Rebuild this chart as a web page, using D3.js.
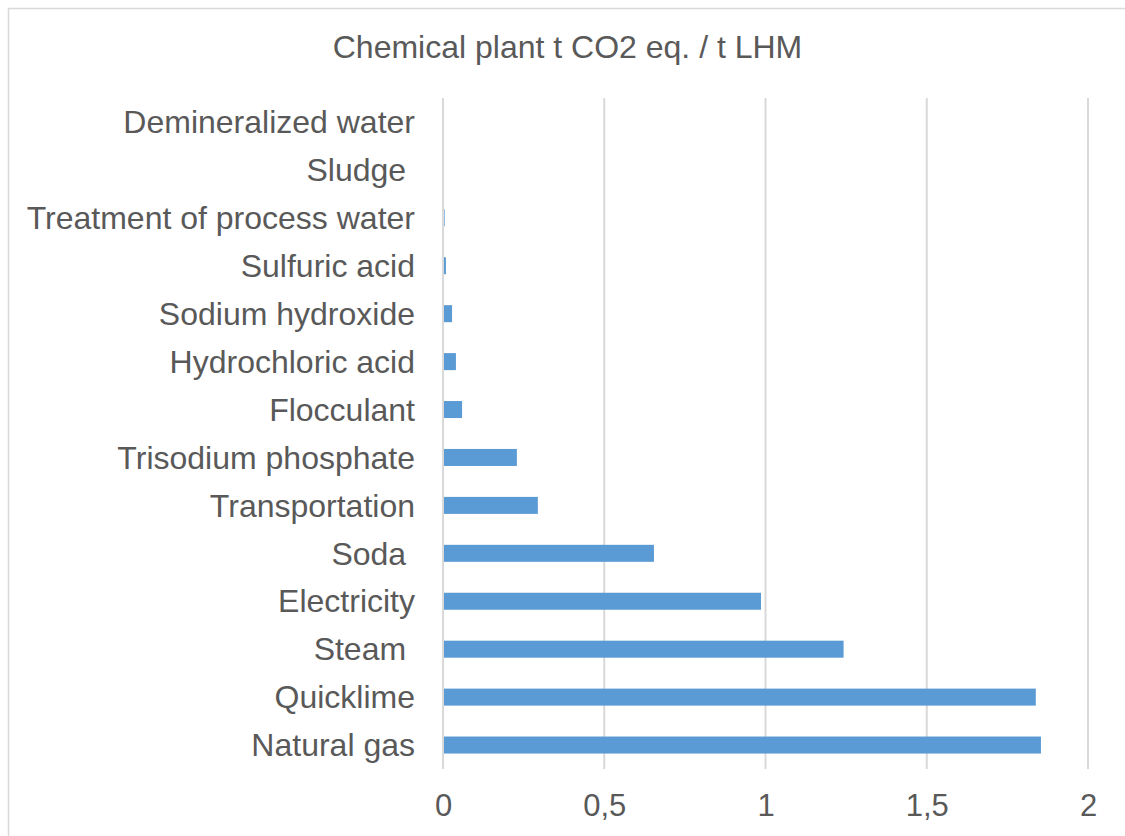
<!DOCTYPE html>
<html>
<head>
<meta charset="utf-8">
<script src="https://cdn.jsdelivr.net/npm/d3@7"></script>
<style>
  html, body { margin: 0; padding: 0; background: #fff; }
  svg { display: block; font-family: "Liberation Sans", Arial, sans-serif; }
</style>
</head>
<body>
<svg id="chart" width="1125" height="836"></svg>
<script>
// Emission sources, top to bottom
const categories = [
  "Demineralized water", "Sludge ", "Treatment of process water", "Sulfuric acid",
  "Sodium hydroxide", "Hydrochloric acid", "Flocculant", "Trisodium phosphate",
  "Transportation", "Soda ", "Electricity", "Steam ", "Quicklime", "Natural gas"
];
// t CO2 eq. per t LHM
const values = [
  0, 0, 0.002, 0.006,
  0.025, 0.037, 0.056, 0.226,
  0.291, 0.651, 0.983, 1.239, 1.835, 1.851
];
const tickValues = [0, 0.5, 1, 1.5, 2];
const tickLabels = ["0", "0,5", "1", "1,5", "2"];
const title = "Chemical plant t CO2 eq. / t LHM";

const svg = d3.select("#chart");
const textColor = "#595959";
const gridColor = "#d9d9d9";
const barColor = "#5b9bd5";

// chart frame
svg.append("rect")
  .attr("x", 8.5).attr("y", 8.5)
  .attr("width", 1130).attr("height", 840)
  .attr("fill", "#fff").attr("stroke", gridColor).attr("stroke-width", 1.5);

const plot = { left: 443, right: 1088, top: 98, bottom: 769 };

const x = d3.scaleLinear().domain([0, 2]).range([plot.left, plot.right]);
const y = d3.scaleBand().domain(categories).range([plot.top, plot.bottom]).paddingInner(0.645).paddingOuter(0.3225);

// vertical gridlines
svg.append("g").selectAll("line").data(tickValues).join("line")
  .attr("x1", d => x(d)).attr("x2", d => x(d))
  .attr("y1", plot.top).attr("y2", plot.bottom)
  .attr("stroke", gridColor).attr("stroke-width", 2);

// bars
svg.append("g").selectAll("rect").data(categories).join("rect")
  .attr("x", x(0) + 1)
  .attr("y", d => y(d))
  .attr("width", (d, i) => Math.max(0, x(values[i]) - x(0)))
  .attr("height", y.bandwidth())
  .attr("fill", barColor);

// category labels
svg.append("g").selectAll("text").data(categories).join("text")
  .attr("x", 415)
  .attr("y", d => y(d) + y.bandwidth() / 2)
  .attr("dy", "0.35em")
  .attr("text-anchor", "end")
  .attr("fill", textColor)
  .attr("font-size", 32)
  .style("white-space", "pre")
  .text(d => d);

// x axis tick labels
const xAxis = d3.axisBottom(x).tickValues(tickValues).tickFormat((d, i) => tickLabels[i]).tickSize(0).tickPadding(0);
const gx = svg.append("g").attr("transform", `translate(0,${plot.bottom})`).call(xAxis);
gx.select(".domain").remove();
gx.selectAll("text")
  .attr("y", 36).attr("dy", "0.35em")
  .attr("fill", textColor)
  .attr("font-size", 31)
  .attr("font-family", "\"Liberation Sans\", Arial, sans-serif");

// title
svg.append("text")
  .attr("x", 567.5).attr("y", 47).attr("dy", "0.35em")
  .attr("text-anchor", "middle")
  .attr("fill", textColor)
  .attr("font-size", 32)
  .text(title);
</script>
</body>
</html>
